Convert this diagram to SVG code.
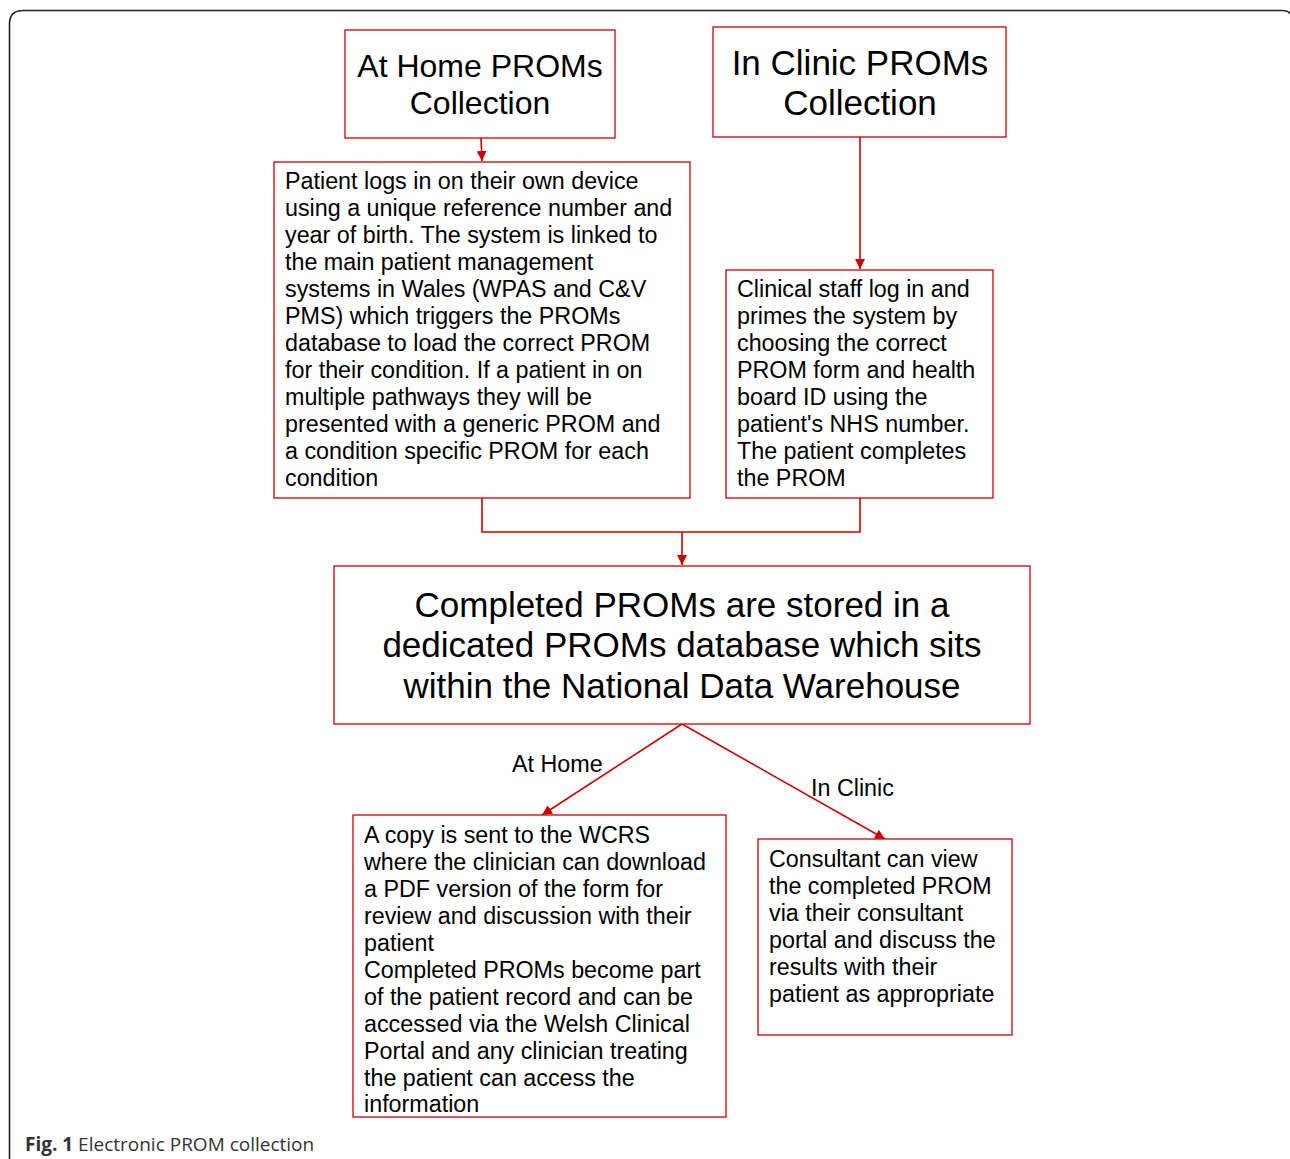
<svg xmlns="http://www.w3.org/2000/svg" width="1290" height="1159" viewBox="0 0 1290 1159">
<defs>
<style>
.box{fill:#fff;stroke:#cc0000;stroke-width:1.3}
.t{font-family:"Liberation Sans",Arial,sans-serif;fill:#000}
.b{font-size:23.3px}
.h1{font-size:32px;text-anchor:middle}
.h2{font-size:35px;text-anchor:middle}
.c{stroke:#cc0000;stroke-width:1.6;fill:none}
.cap{font-family:"Open Sans","Noto Sans",sans-serif;font-size:19px;fill:#333}
</style>
<marker id="ah" viewBox="0 0 10 10" refX="10" refY="5" markerWidth="10" markerHeight="10" markerUnits="userSpaceOnUse" orient="auto">
<path d="M0,0 L10,5 L0,10 z" fill="#cc0000"/>
</marker>
</defs>
<rect width="1290" height="1159" fill="#fff"/>
<path d="M9.5 1159 V24 Q9.5 10.5 23 10.5 H1282 Q1289 10.5 1290 14" fill="none" stroke="#222" stroke-width="1.6"/>

<g id="connectors">
<line class="c" x1="481" y1="138" x2="482" y2="161" marker-end="url(#ah)"/>
<line class="c" x1="860" y1="137" x2="860" y2="269" marker-end="url(#ah)"/>
<polyline class="c" points="482,498 482,532 860,532 860,498"/>
<line class="c" x1="682" y1="532" x2="682" y2="565" marker-end="url(#ah)"/>
<line class="c" x1="682" y1="724" x2="542" y2="815" marker-end="url(#ah)"/>
<line class="c" x1="682" y1="724" x2="885" y2="839" marker-end="url(#ah)"/>
<text class="t b" x="512" y="772">At Home</text>
<text class="t b" x="811" y="796">In Clinic</text>
</g>

<g id="home">
<rect class="box" x="345" y="30" width="270" height="108"/>
<text class="t h1" x="480" y="77">At Home PROMs</text>
<text class="t h1" x="480" y="114">Collection</text>
</g>

<g id="clinic">
<rect class="box" x="713" y="27" width="293" height="110"/>
<text class="t h2" x="860" y="75">In Clinic PROMs</text>
<text class="t h2" x="860" y="115">Collection</text>
</g>

<g id="patient">
<rect class="box" x="274" y="162" width="416" height="336"/>
<text class="t b" x="285">
<tspan x="285" y="189">Patient logs in on their own device</tspan>
<tspan x="285" y="216">using a unique reference number and</tspan>
<tspan x="285" y="243">year of birth. The system is linked to</tspan>
<tspan x="285" y="270">the main patient management</tspan>
<tspan x="285" y="297">systems in Wales (WPAS and C&amp;V</tspan>
<tspan x="285" y="324">PMS) which triggers the PROMs</tspan>
<tspan x="285" y="351">database to load the correct PROM</tspan>
<tspan x="285" y="378">for their condition. If a patient in on</tspan>
<tspan x="285" y="405">multiple pathways they will be</tspan>
<tspan x="285" y="432">presented with a generic PROM and</tspan>
<tspan x="285" y="459">a condition specific PROM for each</tspan>
<tspan x="285" y="486">condition</tspan>
</text>
</g>

<g id="staff">
<rect class="box" x="726" y="270" width="267" height="228"/>
<text class="t b">
<tspan x="737" y="297">Clinical staff log in and</tspan>
<tspan x="737" y="324">primes the system by</tspan>
<tspan x="737" y="351">choosing the correct</tspan>
<tspan x="737" y="378">PROM form and health</tspan>
<tspan x="737" y="405">board ID using the</tspan>
<tspan x="737" y="432">patient's NHS number.</tspan>
<tspan x="737" y="459">The patient completes</tspan>
<tspan x="737" y="486">the PROM</tspan>
</text>
</g>

<g id="stored">
<rect class="box" x="334" y="566" width="696" height="158"/>
<text class="t h2" x="682" y="617">Completed PROMs are stored in a</text>
<text class="t h2" x="682" y="657">dedicated PROMs database which sits</text>
<text class="t h2" x="682" y="698">within the National Data Warehouse</text>
</g>

<g id="copy">
<rect class="box" x="353" y="815" width="373" height="302"/>
<text class="t b">
<tspan x="364" y="843">A copy is sent to the WCRS</tspan>
<tspan x="364" y="870">where the clinician can download</tspan>
<tspan x="364" y="897">a PDF version of the form for</tspan>
<tspan x="364" y="924">review and discussion with their</tspan>
<tspan x="364" y="951">patient</tspan>
<tspan x="364" y="978">Completed PROMs become part</tspan>
<tspan x="364" y="1005">of the patient record and can be</tspan>
<tspan x="364" y="1032">accessed via the Welsh Clinical</tspan>
<tspan x="364" y="1059">Portal and any clinician treating</tspan>
<tspan x="364" y="1086">the patient can access the</tspan>
<tspan x="364" y="1112">information</tspan>
</text>
</g>

<g id="consultant">
<rect class="box" x="758" y="839" width="254" height="196"/>
<text class="t b">
<tspan x="769" y="867">Consultant can view</tspan>
<tspan x="769" y="894">the completed PROM</tspan>
<tspan x="769" y="921">via their consultant</tspan>
<tspan x="769" y="948">portal and discuss the</tspan>
<tspan x="769" y="975">results with their</tspan>
<tspan x="769" y="1002">patient as appropriate</tspan>
</text>
</g>

<text class="cap" x="25" y="1151"><tspan font-weight="bold">Fig. 1</tspan> Electronic PROM collection</text>
</svg>
